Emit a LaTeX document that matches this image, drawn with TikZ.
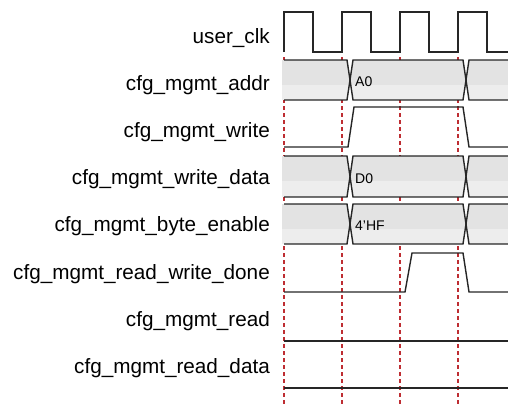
\documentclass[tikz,border=0pt]{standalone}
\usepackage{fontspec}
\setmainfont{Liberation Sans}
\definecolor{gridred}{RGB}{190,45,50}
\begin{document}
\begin{tikzpicture}[x=1pt,y=-1pt,
  lbl/.style={anchor=base east,inner sep=0pt,font=\fontsize{20.7}{24}\selectfont},
  val/.style={anchor=base west,inner sep=0pt,font=\fontsize{14}{16}\selectfont},
  wave/.style={draw=black!85,line width=1.4pt,line join=miter},
  grid/.style={draw=gridred,line width=1.4pt,dash pattern=on 4pt off 3pt},
  upperband/.style={fill=black!11},
  lowerband/.style={fill=black!7}]
\useasboundingbox (0,0) rectangle (508,405);
% labels
\node[lbl] (l1) at (270,43) {user\_clk};
\node[lbl] (l2) at (270,90.2) {cfg\_mgmt\_addr};
\node[lbl] (l3) at (270,137.4) {cfg\_mgmt\_write};
\node[lbl] (l4) at (270,184.6) {cfg\_mgmt\_write\_data};
\node[lbl] (l5) at (270,231.8) {cfg\_mgmt\_byte\_enable};
\node[lbl] (l6) at (270,279) {cfg\_mgmt\_read\_write\_done};
\node[lbl] (l7) at (270,326.2) {cfg\_mgmt\_read};
\node[lbl] (l8) at (270,373.4) {cfg\_mgmt\_read\_data};
% dashed guide lines
\foreach \gx in {284,342,400,458}
  \draw[grid] (\gx,57) -- (\gx,405);
% clock
\draw[wave] (284,52) -- (284,12) -- (313,12) -- (313,52) -- (342,52) -- (342,12)
  -- (371,12) -- (371,52) -- (400,52) -- (400,12) -- (429,12) -- (429,52)
  -- (458,52) -- (458,12) -- (487,12) -- (487,52) -- (508,52);
% buses: top/bottom
\foreach \t/\b in {60/100,156/197,204/244}{
  \pgfmathsetmacro{\m}{(\t+\b)/2}
  \pgfmathsetmacro{\s}{\t+0.62*(\b-\t)}
  \begin{scope}
    \clip (282,\t) -- (347,\t) -- (350,\m) -- (347,\b) -- (282,\b) -- cycle
          (353,\t) -- (463,\t) -- (466,\m) -- (463,\b) -- (353,\b) -- (350,\m) -- cycle
          (508,\t) -- (469,\t) -- (466,\m) -- (469,\b) -- (508,\b) -- cycle;
    \fill[upperband] (282,\t) rectangle (508,\s);
    \fill[lowerband] (282,\s) rectangle (508,\b);
  \end{scope}
  \draw[wave] (284,\t) -- (347,\t) -- (353,\b) -- (463,\b) -- (469,\t) -- (508,\t);
  \draw[wave] (284,\b) -- (347,\b) -- (353,\t) -- (463,\t) -- (469,\b) -- (508,\b);
}
\node[val] (v1) at (355,86.5) {A0};
\node[val] (v2) at (355,183) {D0};
\node[val] (v3) at (355,230.5) {4'HF};
% write
\draw[wave] (284,147) -- (348,147) -- (354,107) -- (463,107) -- (469,147) -- (508,147);
% read_write_done
\draw[wave] (284,292) -- (405,292) -- (412,253) -- (463,253) -- (469,292) -- (508,292);
% read
\draw[wave] (284,341) -- (508,341);
% read_data
\draw[wave] (284,388) -- (508,388);
\end{tikzpicture}
\end{document}
